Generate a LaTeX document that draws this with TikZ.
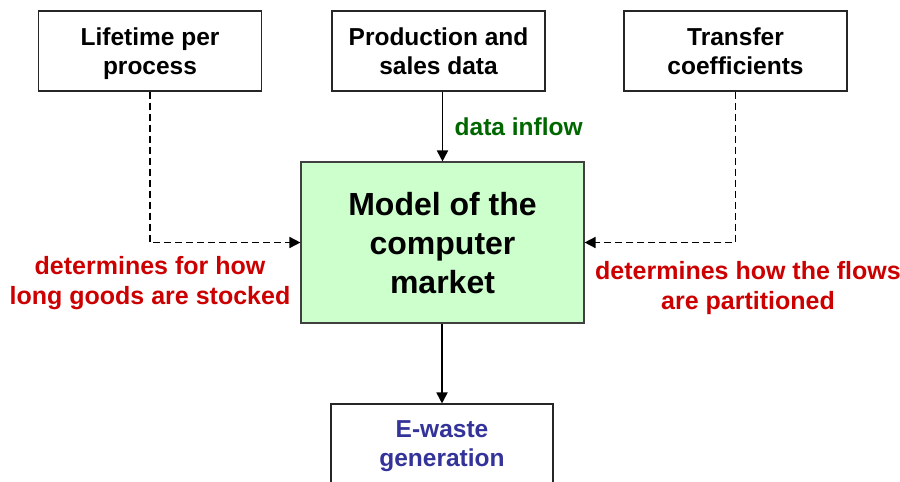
\documentclass[tikz,border=0pt]{standalone}
\usepackage{fontspec}
\setmainfont{Liberation Sans}
\usepackage{tikz}
\usetikzlibrary{positioning,arrows.meta,calc}
\definecolor{ewNoteRed}{RGB}{204,0,0}
\definecolor{ewFlowGreen}{RGB}{0,102,0}
\definecolor{ewOutBlue}{RGB}{51,51,153}
\definecolor{ewModelFill}{RGB}{204,255,204}
\tikzset{
  ewbox/.style={rectangle, draw=black!85, line width=1.1pt, minimum width=223pt,
                minimum height=80pt, inner sep=0pt, align=center, text depth=0pt,
                font=\fontsize{24.5}{29}\selectfont\bfseries},
  ewmodel/.style={ewbox, fill=ewModelFill, draw=black!75, minimum width=283pt,
                  minimum height=161pt, font=\fontsize{32}{39}\selectfont\bfseries},
  ewflow/.style={draw=black, line width=1.8pt, -{Triangle[length=11pt,width=11pt]}},
  ewinfl/.style={ewflow, line width=1.5pt, dash pattern=on 7pt off 4pt},
  ewnote/.style={align=center, text=ewNoteRed, inner sep=0pt,
                 font=\fontsize{25}{30}\selectfont\bfseries},
}

\begin{document}
\begin{tikzpicture}[x=1pt,y=-1pt]
  \useasboundingbox (0,0) rectangle (900,482);
  \node[ewbox] (life) at (150,51) {Lifetime per\\process};
  \node[ewbox, minimum width=213pt] (prod) at (438.5,51) {Production and\\sales data};
  \node[ewbox] (trans) at (735.5,51) {Transfer\\coefficients};
  \node[ewmodel] (model) at (442.5,242.5) {Model of the\\computer\\market};
  \node[ewbox, minimum width=222pt, text=ewOutBlue] (waste) at (442,444) {E-waste\\generation};
  \draw[ewflow] (prod.south -| model.north) -- node[right=8pt, text=ewFlowGreen,
    font=\fontsize{24.5}{29}\selectfont\bfseries]{data inflow} (model.north);
  \draw[ewinfl] (life.south) |- (model.west);
  \draw[ewinfl] (trans.south) |- (model.east);
  \draw[ewflow] (model.south -| waste.north) -- (waste.north);
  \node[ewnote] (lifenote) at (150,283) {determines for how\\long goods are stocked};
  \node[ewnote] (transnote) at (748,288) {determines how the flows\\are partitioned};
\end{tikzpicture}
\end{document}
